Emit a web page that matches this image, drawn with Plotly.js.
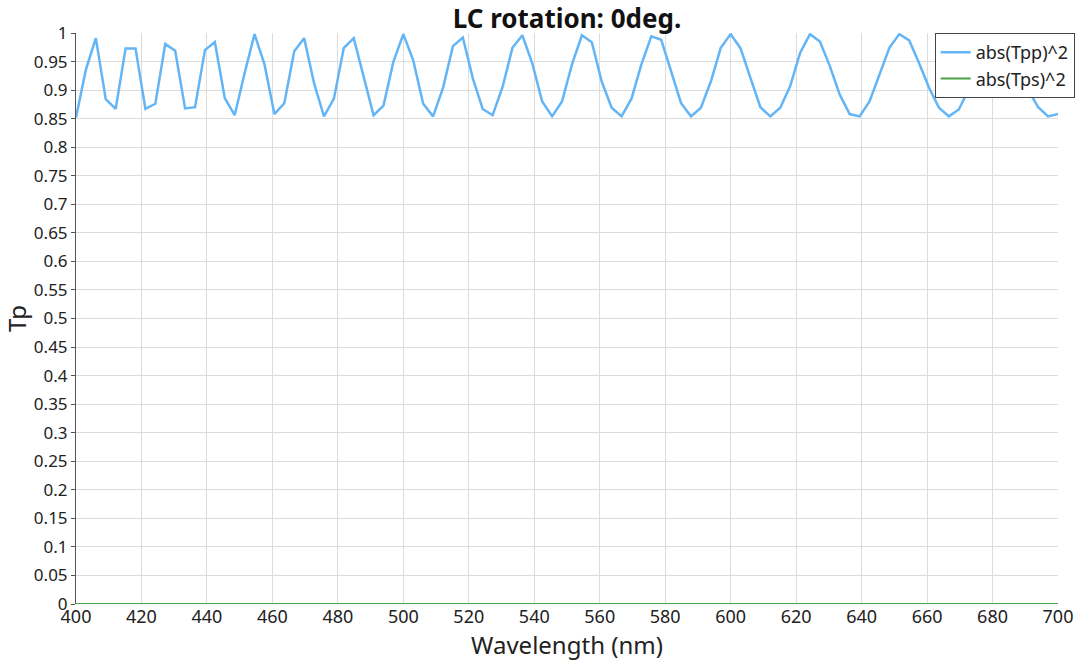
<!DOCTYPE html>
<html>
<head>
<meta charset="utf-8">
<script src="https://cdn.plot.ly/plotly-3.0.1.min.js"></script>
<style>
  html, body { margin: 0; padding: 0; background: #fff; }
  #plot { width: 1080px; height: 663px; }
</style>
</head>
<body>
<div id="plot"></div>
<script>
// wavelength samples (nm)
var wavelength = [
    400, 403.03, 406.06, 409.09, 412.12, 415.15, 418.18, 421.21, 424.24, 427.27,
    430.30, 433.33, 436.36, 439.39, 442.42, 445.45, 448.48, 451.52, 454.55, 457.58,
    460.61, 463.64, 466.67, 469.70, 472.73, 475.76, 478.79, 481.82, 484.85, 487.88,
    490.91, 493.94, 496.97, 500.00, 503.03, 506.06, 509.09, 512.12, 515.15, 518.18,
    521.21, 524.24, 527.27, 530.30, 533.33, 536.36, 539.39, 542.42, 545.45, 548.48,
    551.52, 554.55, 557.58, 560.61, 563.64, 566.67, 569.70, 572.73, 575.76, 578.79,
    581.82, 584.85, 587.88, 590.91, 593.94, 596.97, 600.00, 603.03, 606.06, 609.09,
    612.12, 615.15, 618.18, 621.21, 624.24, 627.27, 630.30, 633.33, 636.36, 639.39,
    642.42, 645.45, 648.48, 651.52, 654.55, 657.58, 660.61, 663.64, 666.67, 669.70,
    672.73, 675.76, 678.79, 681.82, 684.85, 687.88, 690.91, 693.94, 696.97, 700
];

// abs(Tpp)^2
var tpp = [
    0.852, 0.936, 0.991, 0.884, 0.867, 0.973, 0.973, 0.867, 0.876, 0.981,
    0.969, 0.868, 0.870, 0.970, 0.984, 0.886, 0.856, 0.930, 0.998, 0.945,
    0.858, 0.877, 0.968, 0.991, 0.912, 0.854, 0.885, 0.974, 0.991, 0.925,
    0.856, 0.873, 0.950, 0.998, 0.952, 0.876, 0.854, 0.904, 0.977, 0.992,
    0.921, 0.867, 0.856, 0.905, 0.974, 0.996, 0.947, 0.880, 0.854, 0.880,
    0.945, 0.996, 0.984, 0.915, 0.869, 0.854, 0.885, 0.945, 0.994, 0.988,
    0.933, 0.877, 0.854, 0.869, 0.915, 0.974, 0.998, 0.973, 0.921, 0.870,
    0.854, 0.869, 0.907, 0.965, 0.998, 0.985, 0.942, 0.892, 0.858, 0.854,
    0.880, 0.927, 0.974, 0.998, 0.987, 0.947, 0.904, 0.869, 0.854, 0.866,
    0.901, 0.950, 0.990, 0.995, 0.975, 0.940, 0.900, 0.870, 0.854, 0.858
];

// abs(Tps)^2 - flat at zero
var tps = [
    0, 0, 0, 0, 0, 0, 0, 0, 0, 0,
    0, 0, 0, 0, 0, 0, 0, 0, 0, 0,
    0, 0, 0, 0, 0, 0, 0, 0, 0, 0,
    0, 0, 0, 0, 0, 0, 0, 0, 0, 0,
    0, 0, 0, 0, 0, 0, 0, 0, 0, 0,
    0, 0, 0, 0, 0, 0, 0, 0, 0, 0,
    0, 0, 0, 0, 0, 0, 0, 0, 0, 0,
    0, 0, 0, 0, 0, 0, 0, 0, 0, 0,
    0, 0, 0, 0, 0, 0, 0, 0, 0, 0,
    0, 0, 0, 0, 0, 0, 0, 0, 0, 0
];

var data = [
    {
        type: 'scatter',
        mode: 'lines',
        name: 'abs(Tpp)^2',
        x: wavelength,
        y: tpp,
        line: { color: 'rgb(100,181,246)', width: 2.5 }
    },
    {
        type: 'scatter',
        mode: 'lines',
        name: 'abs(Tps)^2',
        x: wavelength,
        y: tps,
        line: { color: 'rgb(76,160,70)', width: 2 }
    }
];

var layout = {
    width: 1080,
    height: 663,
    margin: { l: 76, r: 22, t: 33, b: 59, autoexpand: false },
    paper_bgcolor: '#fff',
    plot_bgcolor: '#fff',
    font: { family: 'Noto Sans, Open Sans, sans-serif', color: '#222', size: 17 },
    title: {
        text: '<b>LC rotation: 0deg.</b>',
        font: { size: 26, color: '#111' },
        x: 0.525, xanchor: 'center',
        y: 0.972, yanchor: 'middle'
    },
    xaxis: {
        range: [400, 700],
        dtick: 20,
        tick0: 400,
        showgrid: true,
        gridcolor: '#dcdcdc',
        zeroline: false,
        showline: false,
        ticks: '',
        automargin: false,
        tickfont: { size: 18 },
        title: { text: 'Wavelength (nm)', font: { size: 24 }, standoff: 2 }
    },
    yaxis: {
        range: [0, 1],
        dtick: 0.05,
        tick0: 0,
        showgrid: true,
        gridcolor: '#dcdcdc',
        zeroline: false,
        showline: true,
        linecolor: '#555',
        linewidth: 1,
        ticks: 'outside',
        ticklen: 4,
        tickcolor: '#555',
        automargin: false,
        tickfont: { size: 17 },
        title: { text: 'Tp', font: { size: 24 }, standoff: 4 }
    },
    showlegend: true,
    legend: {
        x: 1.017, xanchor: 'right',
        y: 1, yanchor: 'top',
        bgcolor: '#fff',
        bordercolor: '#444',
        borderwidth: 1,
        font: { size: 18, color: '#222' },
        tracegroupgap: 0
    }
};

Plotly.newPlot('plot', data, layout, { displayModeBar: false, staticPlot: true });
</script>
</body>
</html>
